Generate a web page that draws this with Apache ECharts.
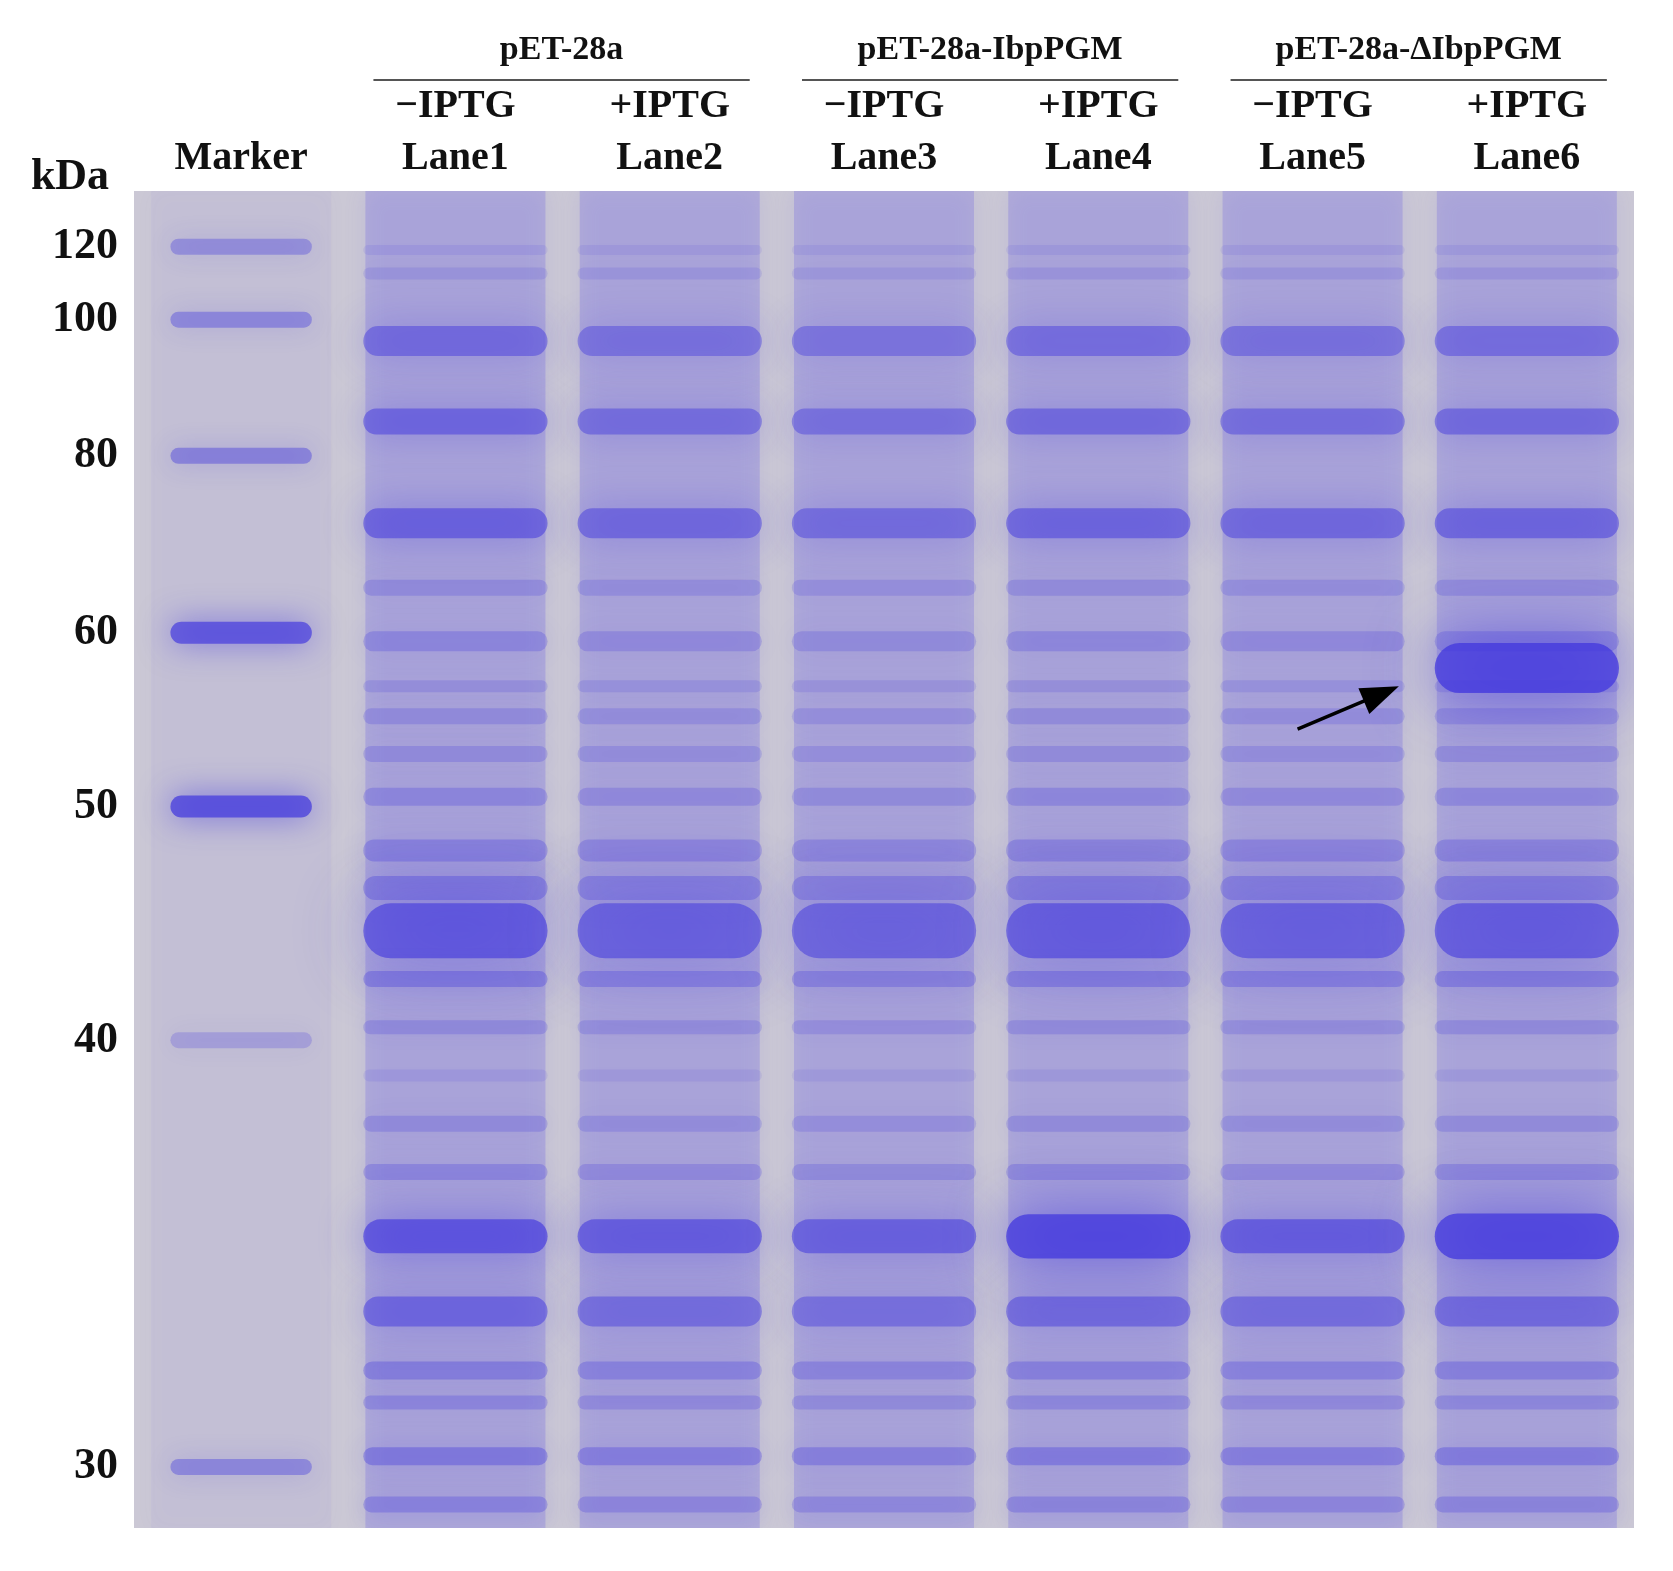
<!DOCTYPE html>
<html><head><meta charset="utf-8">
<script src="https://cdn.jsdelivr.net/npm/echarts@6/dist/echarts.min.js"></script>
<style>html,body{margin:0;background:#fff}#c{width:1673px;height:1571px}</style>
</head><body><div id="c"></div>
<script>
const lanes = ['Marker','Lane1','Lane2','Lane3','Lane4','Lane5','Lane6'];
const laneTreat = ['', '−IPTG','+IPTG','−IPTG','+IPTG','−IPTG','+IPTG'];
const groups = ['pET-28a','pET-28a-IbpPGM','pET-28a-ΔIbpPGM'];
const markerKDa = [120,100,80,60,50,40,30];
const markerPos = [52,120,247,412,574,792,1190];        // migration distance (gel units)
const markerStrength = [0.45,0.5,0.55,0.9,0.95,0.3,0.5];
// sample bands: [migration, intensity, thickness]
const sampleBands = [[55,0.15,10],[77,0.2,12],[140,0.65,30],[215,0.7,26],[310,0.75,30],[370,0.3,16],[420,0.35,20],[462,0.25,12],[490,0.3,16],[525,0.3,16],[565,0.35,18],[615,0.4,22],[650,0.45,24],[690,0.85,55],[735,0.45,16],[780,0.3,14],[825,0.15,12],[870,0.3,16],[915,0.35,16],[975,0.9,34],[1045,0.7,30],[1100,0.45,18],[1130,0.35,14],[1180,0.5,18],[1225,0.4,16]];
const laneStrength = [0,0.95,0.85,0.8,0.9,0.85,0.9];
const strongBandBoost = [0,1,1,1,1.3,1,1.35];  // band at 975
const inducedBand = [[6,445,1.0,50]];           // lane, migration, intensity, thickness

const chart = echarts.init(document.getElementById('c'));
const items = [];
lanes.forEach((l,i)=>{
  if(i===0){
    items.push([i,0,1247,0.06,0]);
    markerPos.forEach((p,k)=>items.push([i,p,markerStrength[k],(k===3||k===4)?22:16,1]));
  } else {
    items.push([i,0,1247,0.3,0]);
    sampleBands.forEach(b=>{
      let s=b[1]*laneStrength[i], t=b[2];
      if(b[0]===975){s*=strongBandBoost[i]; t*=strongBandBoost[i];}
      items.push([i,b[0],Math.min(s,1),t,1]);
    });
  }
});
inducedBand.forEach(b=>items.push([b[0],b[1],b[2],b[3],1]));

function render(params, api){
  const lane=api.value(0), kind=api.value(4);
  const bw=api.size([1,0])[0];
  const cx=api.coord([lane,0])[0];
  if(kind===0){
    const y0=api.coord([lane,0])[1], y1=api.coord([lane,api.value(2)])[1];
    const w=bw*0.84;
    return {type:'rect',shape:{x:cx-w/2,y:y0,width:w,height:y1-y0},
      style:{fill:'rgba(120,110,225,'+api.value(3)+')',shadowBlur:20,shadowColor:'rgba(120,110,225,0.45)'}};
  }
  const y=api.coord([lane,api.value(1)])[1];
  const s=api.value(2), t=api.value(3);
  const w=bw*(lane===0?0.66:0.86);
  return {type:'rect',shape:{x:cx-w/2,y:y-t/2,width:w,height:t,r:t/2},
    style:{fill:'rgba(65,55,222,'+(s*0.75)+')',shadowBlur:t*1.2+6,shadowColor:'rgba(65,55,222,'+(s*0.9)+')'}};
}

const F='"Liberation Serif", "Times New Roman", serif';
chart.setOption({
  animation:false,
  grid:{left:134,top:191,width:1500,height:1337,show:true,backgroundColor:'#cbc8d5',borderWidth:0},
  xAxis:{type:'category',position:'top',data:lanes,axisLine:{show:false},axisTick:{show:false},
    axisLabel:{margin:6,fontFamily:F,fontWeight:'bold',fontSize:40,color:'#111',lineHeight:52,
      formatter:(v,i)=> i===0? v : laneTreat[i]+'\n'+v}},
  yAxis:{type:'value',min:0,max:1247,inverse:true,show:false},
  series:[{type:'custom',renderItem:render,data:items,clip:true}]
});

const g=[];
markerKDa.forEach((k,i)=>{
  const p=chart.convertToPixel({gridIndex:0},[0,markerPos[i]]);
  g.push({type:'text',x:118,y:p[1],style:{text:String(k),font:'bold 44px '+F,fill:'#111',align:'right',verticalAlign:'middle'}});
});
g.push({type:'text',x:70,y:200,style:{text:'kDa',font:'bold 44px '+F,fill:'#111',align:'center',verticalAlign:'bottom'}});
[[1,2],[3,4],[5,6]].forEach((pair,gi)=>{
  const a=chart.convertToPixel({gridIndex:0},[pair[0],0])[0], b=chart.convertToPixel({gridIndex:0},[pair[1],0])[0];
  const x0=a-82, x1=b+80;
  g.push({type:'line',shape:{x1:x0,y1:80,x2:x1,y2:80},style:{stroke:'#555',lineWidth:2}});
  g.push({type:'text',x:(x0+x1)/2,y:50,style:{text:groups[gi],font:'bold 34px '+F,fill:'#111',align:'center',verticalAlign:'middle'}});
});
const a0=chart.convertToPixel({gridIndex:0},[5,502]), a1=chart.convertToPixel({gridIndex:0},[6,462]);
const sx=a0[0]-15, sy=a0[1], ex=a1[0]-128, ey=a1[1];
const ang=Math.atan2(ey-sy,ex-sx);
const L=38,W=14;
g.push({type:'line',z:100,shape:{x1:sx,y1:sy,x2:ex-L*0.8*Math.cos(ang),y2:ey-L*0.8*Math.sin(ang)},style:{stroke:'#000',lineWidth:3.5}});
g.push({type:'polygon',z:100,shape:{points:[[ex,ey],
  [ex-L*Math.cos(ang)+W*Math.sin(ang), ey-L*Math.sin(ang)-W*Math.cos(ang)],
  [ex-L*Math.cos(ang)-W*Math.sin(ang), ey-L*Math.sin(ang)+W*Math.cos(ang)]]},style:{fill:'#000'}});
chart.setOption({graphic:g});
</script></body></html>
